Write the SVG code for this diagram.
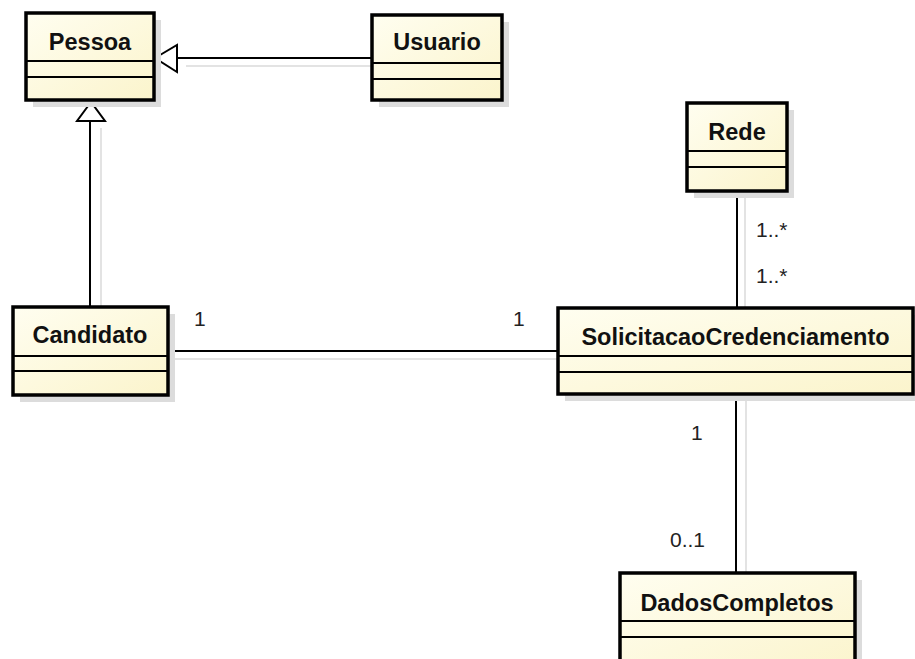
<svg xmlns="http://www.w3.org/2000/svg" width="915" height="659" viewBox="0 0 915 659">
<defs>
<linearGradient id="fill" x1="0" y1="0" x2="1" y2="1">
<stop offset="0" stop-color="#fffef0"/>
<stop offset="1" stop-color="#fbf4cc"/>
</linearGradient>
</defs>
<style>
.shadow{fill:#dcdcdc}
.box{fill:url(#fill);stroke:#000;stroke-width:3.5}
.div{stroke:#000;stroke-width:2}
.name{font-family:"Liberation Sans",Arial,sans-serif;font-weight:bold;font-size:23.5px;fill:#111;text-anchor:middle}
.lbl{font-family:"Liberation Sans",Arial,sans-serif;font-size:21px;fill:#222}
.edge{stroke:#000;stroke-width:2;fill:none}
.ghost{stroke:#dadada;stroke-width:1.5;fill:none}
.tri{fill:#fff;stroke:#000;stroke-width:2}
</style>
<rect width="915" height="659" fill="#fff"/>
<g id="connectors">
<line class="ghost" x1="186" y1="66" x2="385" y2="66"/>
<line class="ghost" x1="101" y1="128" x2="101" y2="307"/>
<line class="ghost" x1="168" y1="359" x2="560" y2="359"/>
<line class="ghost" x1="745" y1="194" x2="745" y2="310"/>
<line class="ghost" x1="746" y1="397" x2="746" y2="585"/>
<line class="edge" x1="177" y1="58" x2="372" y2="58"/>
<polygon class="tri" points="155,58 177,45 177,72"/>
<line class="edge" x1="90" y1="121" x2="90" y2="307"/>
<polygon class="tri" points="91,102 77,121 105,121"/>
<line class="edge" x1="168" y1="351" x2="558" y2="351"/>
<line class="edge" x1="737" y1="191" x2="737" y2="308"/>
<line class="edge" x1="736" y1="394" x2="736" y2="573"/>
<text class="lbl" x="194" y="326">1</text>
<text class="lbl" x="513" y="326">1</text>
<text class="lbl" x="756" y="237">1..*</text>
<text class="lbl" x="756" y="283">1..*</text>
<text class="lbl" x="691" y="440">1</text>
<text class="lbl" x="670" y="547">0..1</text>
</g>
<g id="Pessoa">
<rect class="shadow" x="33" y="20" width="128" height="87"/>
<rect class="box" x="26" y="13" width="128" height="87"/>
<line class="div" x1="26" y1="61" x2="154" y2="61"/>
<line class="div" x1="26" y1="77" x2="154" y2="77"/>
<text class="name" x="90" y="50">Pessoa</text>
</g>
<g id="Usuario">
<rect class="shadow" x="379" y="22" width="130" height="85"/>
<rect class="box" x="372" y="15" width="130" height="85"/>
<line class="div" x1="372" y1="63" x2="502" y2="63"/>
<line class="div" x1="372" y1="79" x2="502" y2="79"/>
<text class="name" x="437" y="50">Usuario</text>
</g>
<g id="Rede">
<rect class="shadow" x="694" y="110" width="100" height="88"/>
<rect class="box" x="687" y="103" width="100" height="88"/>
<line class="div" x1="687" y1="151" x2="787" y2="151"/>
<line class="div" x1="687" y1="167" x2="787" y2="167"/>
<text class="name" x="737" y="140">Rede</text>
</g>
<g id="Candidato">
<rect class="shadow" x="20" y="314" width="155" height="88"/>
<rect class="box" x="13" y="307" width="155" height="88"/>
<line class="div" x1="13" y1="356" x2="168" y2="356"/>
<line class="div" x1="13" y1="371" x2="168" y2="371"/>
<text class="name" x="90" y="343">Candidato</text>
</g>
<g id="SolicitacaoCredenciamento">
<rect class="shadow" x="565" y="315" width="355" height="86"/>
<rect class="box" x="558" y="308" width="355" height="86"/>
<line class="div" x1="558" y1="356" x2="913" y2="356"/>
<line class="div" x1="558" y1="372" x2="913" y2="372"/>
<text class="name" x="735.5" y="345">SolicitacaoCredenciamento</text>
</g>
<g id="DadosCompletos">
<rect class="shadow" x="627" y="580" width="235" height="100"/>
<rect class="box" x="620" y="573" width="235" height="100"/>
<line class="div" x1="620" y1="621" x2="855" y2="621"/>
<line class="div" x1="620" y1="637" x2="855" y2="637"/>
<text class="name" x="737" y="611">DadosCompletos</text>
</g>
</svg>
